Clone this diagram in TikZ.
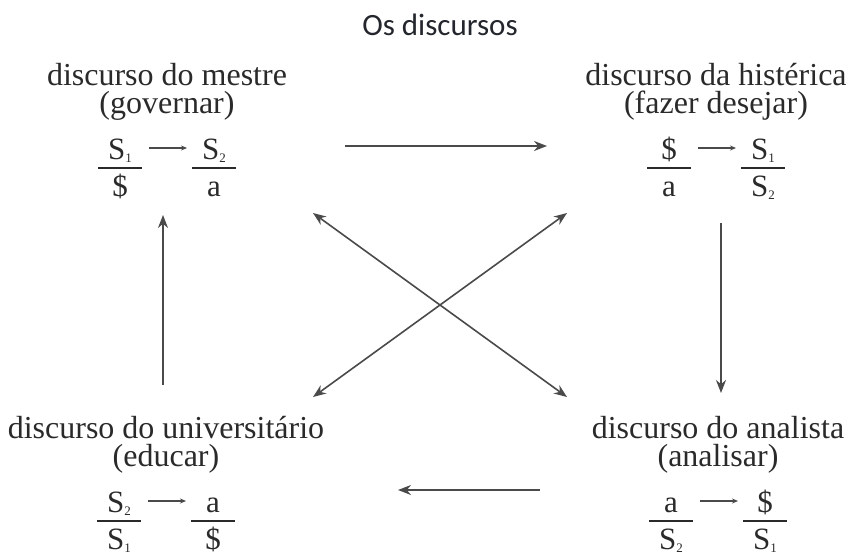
\documentclass[tikz,border=0pt]{standalone}
\usepackage{fontspec}
\setmainfont{Liberation Serif}
\newfontfamily\titlefont{Carlito}
\usetikzlibrary{arrows.meta,calc}
\definecolor{ink}{HTML}{2A2A2A}
\definecolor{linegray}{HTML}{4A4A4A}
\definecolor{titleink}{HTML}{24262E}
\newcommand\subx[1]{\raisebox{-3pt}{\fontsize{13}{13}\selectfont #1}}
\newcommand\discourse[9]{%
  \node[lbl] (#1-t) at (#2,#3+28) {#4\\#5};
  \node[term] (#1-n1) at (#2-47,#3+74) {#6};
  \node[term] (#1-d1) at (#2-47,#3+111) {#7};
  \node[term] (#1-n2) at (#2+47,#3+74) {#8};
  \node[term] (#1-d2) at (#2+47,#3+111) {#9};
  \draw[bar] (#2-69,#3+83) -- (#2-25,#3+83);
  \draw[bar] (#2+25,#3+83) -- (#2+69,#3+83);
  \draw[small] ($(#1-n1.base)+(29,-11)$) -- ($(#1-n2.base)+(-27,-11)$);
}
\begin{document}
\begin{tikzpicture}[x=1pt,y=-1pt,
  lbl/.style={font=\fontsize{32}{28}\selectfont, text=ink, inner sep=0pt, anchor=base, align=center},
  term/.style={font=\fontsize{31}{31}\selectfont, text=ink, inner sep=0pt, anchor=base},
  bar/.style={draw=ink, line width=1.1pt},
  big/.style={draw=linegray, line width=1.6pt, -{Stealth[length=13pt,width=10pt]}},
  both/.style={draw=linegray, line width=1.6pt, {Stealth[length=13pt,width=10pt]}-{Stealth[length=13pt,width=10pt]}},
  small/.style={draw=linegray, line width=1.2pt, -{Stealth[length=6pt,width=5pt]}}]
\useasboundingbox (0,0) rectangle (850,557);
\node[font=\titlefont\fontsize{31}{31}\selectfont, text=titleink, inner sep=0pt, anchor=base] (title) at (440,35) {Os discursos};

\discourse{mestre}{167}{85}{discurso do mestre}{(governar)}{S\subx{1}}{\$}{S\subx{2}}{a}
\discourse{hist}{716}{85}{discurso da histérica}{(fazer desejar)}{\$}{a}{S\subx{1}}{S\subx{2}}
\discourse{univ}{166}{438}{discurso do universitário}{(educar)}{S\subx{2}}{S\subx{1}}{a}{\$}
\discourse{anal}{718}{438}{discurso do analista}{(analisar)}{a}{S\subx{2}}{\$}{S\subx{1}}

\coordinate (mOut) at (345,146);
\coordinate (hIn) at (547,146);
\coordinate (hOut) at (721,223);
\coordinate (aIn) at (721,393);
\coordinate (aOut) at (540,490);
\coordinate (uIn) at (398,490);
\coordinate (uOut) at (163,385);
\coordinate (mIn) at (163,215);
\coordinate (dTL) at (313,213);
\coordinate (dBR) at (567,397);
\coordinate (dTR) at (567,213);
\coordinate (dBL) at (313,397);

\draw[big] (mOut) -- (hIn);
\draw[big] (hOut) -- (aIn);
\draw[big] (aOut) -- (uIn);
\draw[big] (uOut) -- (mIn);
\draw[both] (dTL) -- (dBR);
\draw[both] (dTR) -- (dBL);
\end{tikzpicture}
\end{document}
